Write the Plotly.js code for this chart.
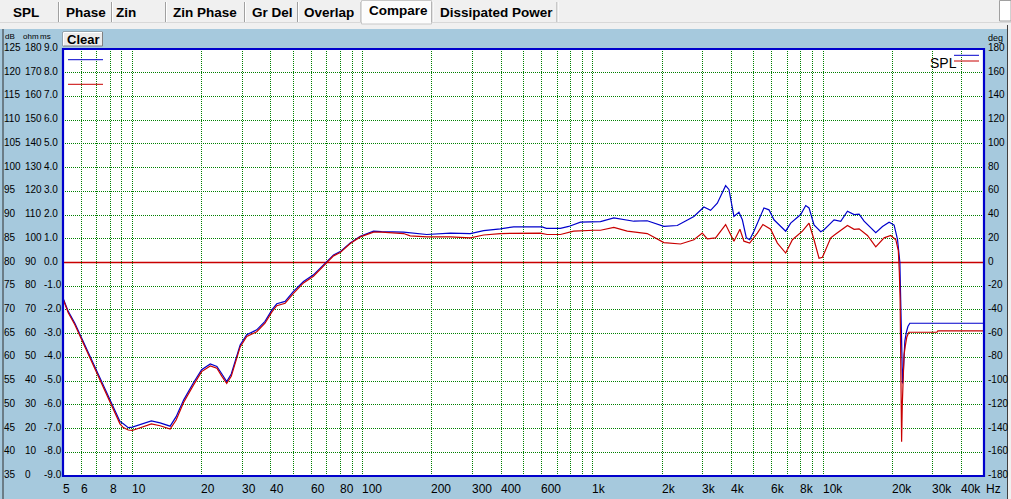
<!DOCTYPE html>
<html><head><meta charset="utf-8">
<script src="https://cdn.plot.ly/plotly-3.0.1.min.js"></script>
<style>html,body{margin:0;padding:0;background:#A6C9DD;overflow:hidden}#chart{width:1011px;height:499px}</style>
</head><body><div id="chart"></div>
<script>
// ---- data ----
const freqBlue=[5,5.27,5.63,6.02,6.44,6.88,7.36,7.86,8.41,8.84,9.14,9.6,10,10.8,12.1,13.2,14.6,15.5,16.7,18.4,20.0,21.8,23.3,24.5,25.7,26.9,28.0,29.4,31.4,34.7,37.7,40.4,42.4,46.1,50.1,55.4,61.2,65.5,70,74.8,80,88.4,97.7,111.6,121,150.7,190,240.6,293.8,335.7,396.8,453,602,629,723,786,884,1080,1234,1411,1507,1723,2035,2327,2748,3037,3247,3473,3774,3901,4101,4312,4461,4643,4800,5010,5536,5823,6121,6881,7234,7996,8409,8690,9136,9771,10100,10800,11160,11935,12765,13640,14336,15071,16940,18120,19355,20350,21050,21560,21760,21920,22060,22140,22270,22430,22660,23010,23360,23820,50000];
const splBlue=[72.5,69.7,67.2,64.1,61.2,57.9,54.9,51.7,48.9,46.5,46.0,45.2,45.3,45.8,46.6,46.2,45.5,47.5,51.0,54.6,57.4,58.6,58.1,56.5,54.9,56.5,59.5,62.6,64.8,65.8,67.6,70.0,71.3,71.8,73.9,76.0,77.4,78.8,80.2,81.6,82.3,84.1,85.5,86.6,86.5,86.4,85.9,86.2,86.1,86.7,87.1,87.5,87.5,87.2,87.2,87.6,88.5,88.6,89.4,89.0,88.7,88.8,87.6,87.8,89.7,91.7,91.0,92.5,96.2,95.4,89.7,90.6,89.0,85.2,84.8,86.6,91.5,91.1,89.0,86.6,88.3,90.1,92.0,91.5,87.9,86.5,86.9,88.3,89.0,88.7,90.8,90.1,90.2,88.7,86.3,87.6,88.5,87.9,84.9,80.0,73,66,58,54.5,56,61,63.5,65.3,66.5,67.2,67.2];
const freqRed=[5,5.27,5.63,6.02,6.44,6.88,7.36,7.86,8.41,8.84,9.14,9.6,10,10.8,12.1,13.2,14.6,15.5,16.7,18.4,20.0,21.8,23.3,24.5,25.7,26.9,28.0,29.4,31.4,34.7,37.7,40.4,42.4,46.1,50.1,55.4,61.2,65.5,70,74.8,80,88.4,97.7,111.6,121,150.7,161,190,240.6,293.8,335.7,396.8,592,633,723,826,1010,1080,1234,1411,1723,2035,2405,2748,2988,3142,3414,3774,4101,4355,4532,4800,5183,5480,5920,6333,6881,7360,8133,8690,9136,9604,9938,10800,11350,12765,13640,14336,15590,16940,18415,19685,20700,21225,21440,21610,21760,21935,22085,22270,22475,22770,23110,23580,31210,31520,50000];
const splRed=[72.3,69.4,66.9,63.8,60.9,57.6,54.5,51.3,48.4,46.0,45.2,44.7,44.6,45.2,46.0,45.6,44.9,46.8,50.5,54.1,57.0,58.2,57.7,56.0,54.5,56.0,59.0,62.2,64.4,65.4,67.2,69.6,70.9,71.4,73.5,75.7,77.1,78.5,80.0,81.4,82.1,84.0,85.4,86.4,86.4,86.1,85.6,85.4,85.4,85.2,85.8,86.1,86.2,85.9,85.9,86.6,86.8,86.8,87.4,86.6,86.1,84.2,83.9,84.8,86.2,85.0,85.2,88.0,84.5,87.0,84.5,84.1,86.2,88.0,87.0,84.1,82.0,84.8,86.6,88.3,84.8,80.9,81.1,85.2,86.0,87.8,87.0,87.1,85.7,83.3,85.2,85.7,84.8,82.5,78,72,58,42.2,50,56,60.5,62.5,64.3,65.3,65.3,65.6,65.6];

const xGridVals=[5,6,7,8,9,10,20,30,40,50,60,70,80,90,100,200,300,400,500,600,700,800,900,1000,2000,3000,4000,5000,6000,7000,8000,9000,10000,20000,30000,40000];
const xTickVals=[5,6,8,10,20,30,40,60,80,100,200,300,400,600,1000,2000,3000,4000,6000,8000,10000,20000,30000,40000];
const xTickText=['5','6','8','10','20','30','40','60','80','100','200','300','400','600','1k','2k','3k','4k','6k','8k','10k','20k','30k','40k'];
const dbTicks=[125,120,115,110,105,100,95,90,85,80,75,70,65,60,55,50,45,40,35];
const ohmTicks=['180','170','160','150','140','130','120','110','100','90','80','70','60','50','40','30','20','10','0'];
const msTicks=['9.0','8.0','7.0','6.0','5.0','4.0','3.0','2.0','1.0','0.0','-1.0','-2.0','-3.0','-4.0','-5.0','-6.0','-7.0','-8.0','-9.0'];
const degTicks=[180,160,140,120,100,80,60,40,20,0,-20,-40,-60,-80,-100,-120,-140,-160,-180];
const degText=['180','160','140','120','100','80','60','40','20','0','-20','-40','-60','-80','-100','-120','-140','-160','-180'];
const tabNames=['SPL','Phase','Zin','Zin Phase','Gr Del','Overlap','Compare','Dissipated Power'];

// ---- styling / layout ----
const W=1011,H=499,L=63,R=984,T=49,B=476;
const PX=p=>(p-L)/(R-L), PY=p=>(B-p)/(B-T);
const BLUE='#0000CC', RED='#C80000', PANEL='#A6C9DD';
const SANS='"Liberation Sans", Arial, sans-serif';

const traces=[
 {x:freqBlue,y:splBlue,type:'scatter',mode:'lines',line:{color:BLUE,width:1.2},hoverinfo:'skip'},
 {x:freqRed,y:splRed,type:'scatter',mode:'lines',line:{color:RED,width:1.2},hoverinfo:'skip'},
 {x:[],y:[],yaxis:'y2',type:'scatter',hoverinfo:'skip'}
];

const shapes=[], ann=[];
// top tab bar
shapes.push({type:'rect',xref:'paper',yref:'paper',x0:PX(0),x1:PX(W),y0:PY(0),y1:PY(29),fillcolor:'#F0F0F0',line:{width:0},layer:'below'});
shapes.push({type:'line',xref:'paper',yref:'paper',x0:PX(0),x1:PX(W),y0:PY(22.5),y1:PY(22.5),line:{color:'#D8D8D8',width:1},layer:'below'});
shapes.push({type:'rect',xref:'paper',yref:'paper',x0:PX(361.5),x1:PX(431.5),y0:PY(0.5),y1:PY(24),fillcolor:'#FCFCFC',line:{color:'#C8C8C8',width:1},layer:'below'});
[58.5,111.5,165.5,244.5,297.5,361,432,557].forEach(x=>{
 shapes.push({type:'line',xref:'paper',yref:'paper',x0:PX(x),x1:PX(x),y0:PY(2),y1:PY(22),line:{color:'#A0A0A0',width:1},layer:'below'});
 shapes.push({type:'line',xref:'paper',yref:'paper',x0:PX(x+1),x1:PX(x+1),y0:PY(2),y1:PY(22),line:{color:'#FFFFFF',width:1},layer:'below'});
});
shapes.push({type:'rect',xref:'paper',yref:'paper',x0:PX(999.5),x1:PX(1011),y0:PY(0.5),y1:PY(21),fillcolor:'#FFFFFF',line:{color:'#A0A0A0',width:1},layer:'below'});
// panel borders
shapes.push({type:'line',xref:'paper',yref:'paper',x0:PX(3),x1:PX(3),y0:PY(29),y1:PY(H),line:{color:'#303030',width:1},layer:'below'});
shapes.push({type:'rect',xref:'paper',yref:'paper',x0:PX(1007.5),x1:PX(1012),y0:PY(29),y1:PY(H),fillcolor:'#F0F0F0',line:{width:0},layer:'below'});
shapes.push({type:'line',xref:'paper',yref:'paper',x0:PX(1007.5),x1:PX(1007.5),y0:PY(25),y1:PY(H),line:{color:'#404040',width:1},layer:'below'});
// Clear button
shapes.push({type:'rect',xref:'paper',yref:'paper',x0:PX(63),x1:PX(102.5),y0:PY(32),y1:PY(46),fillcolor:'#ECECEC',line:{color:'#808080',width:1},layer:'below'});
shapes.push({type:'line',xref:'paper',yref:'paper',x0:PX(63.5),x1:PX(102),y0:PY(32.5),y1:PY(32.5),line:{color:'#FFFFFF',width:1},layer:'below'});
shapes.push({type:'line',xref:'paper',yref:'paper',x0:PX(63.5),x1:PX(63.5),y0:PY(32.5),y1:PY(45.5),line:{color:'#FFFFFF',width:1},layer:'below'});
// 80 dB reference line
shapes.push({type:'line',xref:'paper',yref:'y',x0:0,x1:1,y0:80,y1:80,line:{color:RED,width:1.5},layer:'between'});
// plot frame
shapes.push({type:'rect',xref:'paper',yref:'paper',x0:0,x1:1,y0:0,y1:1,line:{color:BLUE,width:2.2},layer:'above'});
// legend marks
shapes.push({type:'line',xref:'paper',yref:'paper',x0:PX(68),x1:PX(103),y0:PY(59.7),y1:PY(59.7),line:{color:BLUE,width:1},layer:'above'});
shapes.push({type:'line',xref:'paper',yref:'paper',x0:PX(68),x1:PX(103),y0:PY(84.3),y1:PY(84.3),line:{color:RED,width:1},layer:'above'});
shapes.push({type:'line',xref:'paper',yref:'paper',x0:PX(954),x1:PX(979),y0:PY(55.3),y1:PY(55.3),line:{color:BLUE,width:1},layer:'above'});
shapes.push({type:'line',xref:'paper',yref:'paper',x0:PX(954),x1:PX(979),y0:PY(61),y1:PY(61),line:{color:RED,width:1},layer:'above'});

// tab labels
const tabX=[11.5,65,115,172,250.5,303,368,438.5];
tabNames.forEach((t,i)=>ann.push({text:t,xref:'paper',yref:'paper',x:PX(tabX[i]),y:PY(i===6?10.8:12.8),xanchor:'left',yanchor:'middle',showarrow:false,borderpad:0,font:{family:SANS,size:13.5,color:'#000',weight:'bold'}}));
ann.push({text:'Clear',xref:'paper',yref:'paper',x:PX(83),y:PY(39.2),xanchor:'center',yanchor:'middle',showarrow:false,borderpad:0,font:{family:SANS,size:13,color:'#000',weight:'bold'}});
// axis headers
ann.push({text:'dB',xref:'paper',yref:'paper',x:PX(3.5),y:PY(37),xanchor:'left',yanchor:'middle',showarrow:false,borderpad:0,font:{family:SANS,size:8,color:'#000'}});
ann.push({text:'ohm',xref:'paper',yref:'paper',x:PX(21.5),y:PY(37),xanchor:'left',yanchor:'middle',showarrow:false,borderpad:0,font:{family:SANS,size:8,color:'#000'}});
ann.push({text:'ms',xref:'paper',yref:'paper',x:PX(39),y:PY(37),xanchor:'left',yanchor:'middle',showarrow:false,borderpad:0,font:{family:SANS,size:8,color:'#000'}});
ann.push({text:'deg',xref:'paper',yref:'paper',x:PX(987),y:PY(37.5),xanchor:'left',yanchor:'middle',showarrow:false,borderpad:0,font:{family:SANS,size:9,color:'#000'}});
// left tick columns
dbTicks.forEach((d,i)=>{
 [[3,String(d)],[23.5,ohmTicks[i]],[42.5,msTicks[i]]].forEach(([px,t])=>ann.push({text:t,xref:'paper',yref:'y',x:PX(px),y:d,yshift:1.5,xanchor:'left',yanchor:'middle',showarrow:false,borderpad:0,font:{family:SANS,size:10,color:'#000'}}));
});
// right tick labels
degTicks.forEach((d,i)=>ann.push({text:degText[i],xref:'paper',yref:'y2',x:PX(987),y:d,yshift:1.5,xanchor:'left',yanchor:'middle',showarrow:false,borderpad:0,font:{family:SANS,size:10,color:'#000'}}));
// bottom tick labels
xTickVals.forEach((v,i)=>ann.push({text:xTickText[i],xref:'x',yref:'paper',x:Math.log10(v),y:PY(489),xshift:-1.5,xanchor:'left',yanchor:'middle',showarrow:false,borderpad:0,font:{family:SANS,size:12,color:'#000'}}));
ann.push({text:'Hz',xref:'paper',yref:'paper',x:PX(985),y:PY(489),xanchor:'left',yanchor:'middle',showarrow:false,borderpad:0,font:{family:SANS,size:12,color:'#000'}});
// SPL legend text
ann.push({text:'SPL',xref:'paper',yref:'paper',x:PX(929),y:PY(63),xanchor:'left',yanchor:'middle',showarrow:false,borderpad:0,font:{family:SANS,size:14,color:'#000'}});

const gridStyle={showgrid:true,gridcolor:'#008000',gridwidth:1,griddash:'1px,1px',zeroline:false,showline:false,ticks:'',showticklabels:false,fixedrange:true};
const layout={
 width:W,height:H,margin:{l:L,r:W-R,t:T,b:H-B,pad:0},
 paper_bgcolor:PANEL,plot_bgcolor:'#FFFFFF',showlegend:false,
 xaxis:Object.assign({type:'log',range:[Math.log10(5),Math.log10(50000)],tickmode:'array',tickvals:xGridVals},gridStyle),
 yaxis:Object.assign({range:[35,125],tickmode:'array',tickvals:[40,45,50,55,60,65,70,75,85,90,95,100,105,110,115,120]},gridStyle),
 yaxis2:{overlaying:'y',side:'right',range:[-180,180],showgrid:false,zeroline:false,showticklabels:false,ticks:'',fixedrange:true},
 shapes:shapes,annotations:ann
};
Plotly.newPlot('chart',traces,layout,{staticPlot:true,displayModeBar:false});
</script></body></html>
